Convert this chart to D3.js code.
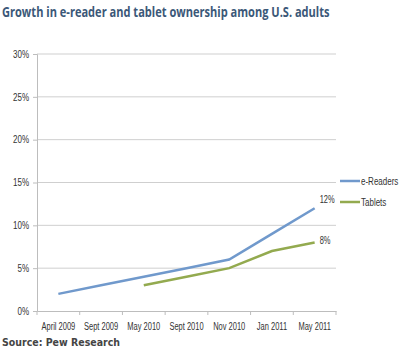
<!DOCTYPE html>
<html>
<head>
<meta charset="utf-8">
<script src="https://cdn.jsdelivr.net/npm/d3@7"></script>
<style>
  body { margin: 0; background: #fff; }
  svg { display: block; font-family: "Open Sans", "Liberation Sans", sans-serif; }
</style>
</head>
<body>
<div id="general"></div>
<script>
const w = 400, h = 350;
const m = { l: 37, r: 64, t: 54, b: 39 };
m.w = w - m.l - m.r;
m.h = h - m.t - m.b;

const months = ["April 2009", "Sept 2009", "May 2010", "Sept 2010", "Nov 2010", "Jan 2011", "May 2011"];
const eReaders = [2, 3, 4, 5, 6, 9, 12];
const tablets = [null, null, 3, 4, 5, 7, 8];
const yTicks = [0, 5, 10, 15, 20, 25, 30];
const seriesNames = ["e-Readers", "Tablets"];
const colors = ["#7099cc", "#93aa4f"];

const small = "'Liberation Sans', sans-serif";
// squeeze text horizontally, like the narrow chart font
function condense(sel, f) {
  sel.each(function () {
    const len = this.getComputedTextLength();
    d3.select(this).attr("textLength", len * f).attr("lengthAdjust", "spacingAndGlyphs");
  });
}

const svg = d3.select("#general").append("svg").attr("width", w).attr("height", h);

// title, squeezed with a scale so its box stays inside the picture
const title = svg.append("text").attr("x", 0).attr("y", 0)
  .attr("font-size", 13.5).attr("font-weight", "bold").attr("fill", "#3b5878")
  .text("Growth in e-reader and tablet ownership among U.S. adults");
const tw = title.node().getComputedTextLength();
title.attr("transform", `translate(2,17) scale(${328 / tw},1)`);

const g = svg.append("g").attr("transform", `translate(${m.l},${m.t})`);

const x = d3.scaleBand().domain(months).range([0, m.w]);
const y = d3.scaleLinear().domain([0, 30]).range([m.h, 0]);

// grid
g.append("g").selectAll("line")
  .data(yTicks.filter(d => d > 0))
  .join("line")
    .attr("x1", 0).attr("x2", m.w)
    .attr("y1", d => y(d)).attr("y2", d => y(d))
    .attr("stroke", "#cfcfcf").attr("stroke-width", 1);

// y axis
const yAxis = g.append("g")
  .call(d3.axisLeft(y).tickValues(yTicks).tickSize(4).tickPadding(4).tickFormat(d => d + "%"));
yAxis.select(".domain").attr("stroke", "#bdbdbd");
yAxis.selectAll(".tick line").attr("stroke", "#bdbdbd");
yAxis.selectAll("text").attr("font-size", 10).attr("fill", "#333").attr("font-family", small)
  .call(condense, 0.8);

// x axis
const xAxis = g.append("g").attr("transform", `translate(0,${m.h})`)
  .call(d3.axisBottom(x).tickSize(0).tickPadding(12));
xAxis.select(".domain").attr("stroke", "#bdbdbd");
xAxis.selectAll("text").attr("font-size", 10).attr("fill", "#333").attr("font-family", small)
  .call(condense, 0.75);
g.append("g").selectAll("line")
  .data(months.concat(["end"]))
  .join("line")
    .attr("x1", (d, i) => i * x.step()).attr("x2", (d, i) => i * x.step())
    .attr("y1", m.h).attr("y2", m.h + 4)
    .attr("stroke", "#bdbdbd");

const cx = d => x(d) + x.bandwidth() / 2;
const line = d3.line()
  .defined(d => d.v != null)
  .x(d => cx(d.m)).y(d => y(d.v));

[eReaders, tablets].forEach((vals, k) => {
  const pts = months.map((mo, i) => ({ m: mo, v: vals[i] }));
  g.append("path").attr("d", line(pts))
    .attr("fill", "none").attr("stroke", colors[k]).attr("stroke-width", 2.5);
  const last = pts[pts.length - 1];
  g.append("text").attr("x", cx(last.m) + 5).attr("y", y(last.v) - (k === 0 ? 5 : -2))
    .attr("font-size", 10).attr("fill", "#333").attr("font-family", small)
    .text(last.v + "%")
    .call(condense, 0.75);
});

// legend
const lg = svg.append("g").attr("transform", "translate(340,181)");
seriesNames.forEach((s, i) => {
  lg.append("line").attr("x1", 0).attr("x2", 20).attr("y1", i * 21).attr("y2", i * 21)
    .attr("stroke", colors[i]).attr("stroke-width", 2.5);
  lg.append("text").attr("x", 0).attr("y", 0)
    .attr("font-size", 10).attr("fill", "#333").attr("font-family", small)
    .attr("transform", `translate(21,${i * 21 + 3.5}) scale(0.8,1)`)
    .text(s);
});

svg.append("text").attr("x", 2).attr("y", 346)
  .attr("font-size", 11).attr("font-weight", "bold").attr("fill", "#444")
  .attr("font-family", "'DejaVu Sans', sans-serif")
  .attr("textLength", 118).attr("lengthAdjust", "spacingAndGlyphs")
  .text("Source: Pew Research");
</script>
</body>
</html>
